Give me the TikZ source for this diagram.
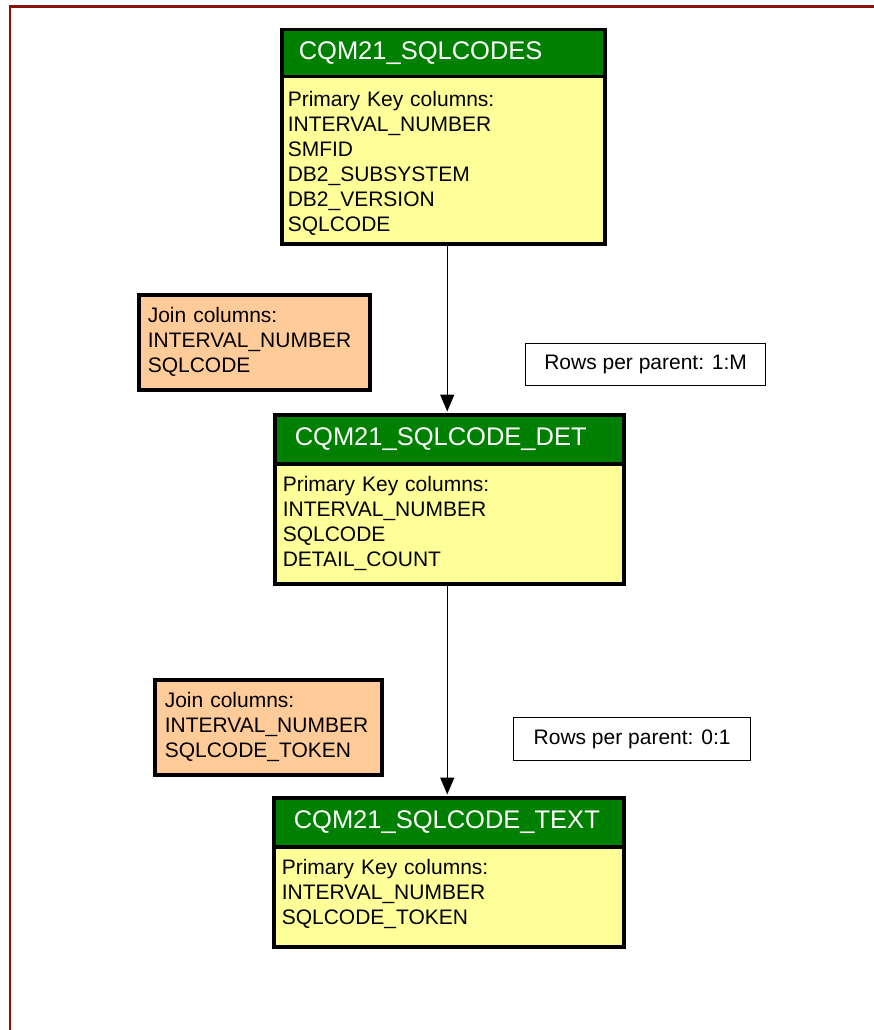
\documentclass[tikz,border=0pt]{standalone}
\usepackage{fontspec}
\setmainfont{Liberation Sans}
\usetikzlibrary{arrows.meta}
\definecolor{hdrgreen}{RGB}{0,128,0}
\definecolor{bodyyellow}{RGB}{255,255,153}
\definecolor{joinpeach}{RGB}{255,204,153}
\definecolor{framered}{RGB}{140,16,16}
\begin{document}
\begin{tikzpicture}[x=1pt,y=-1pt,
  tblhead/.style={draw=black, line width=3.5pt, fill=hdrgreen, text=white,
    font=\fontsize{25.5}{30}\selectfont, anchor=north west,
    inner xsep=18pt, inner ysep=0pt, align=left},
  tblbody/.style={draw=black, line width=3.5pt, fill=bodyyellow,
    font=\fontsize{21}{25}\selectfont, anchor=north west,
    inner xsep=7pt, inner ysep=0pt, align=left},
  joinbox/.style={draw=black, line width=3.5pt, fill=joinpeach,
    font=\fontsize{21}{25}\selectfont, anchor=north west,
    inner xsep=9pt, inner ysep=0pt, align=left},
  cardbox/.style={draw=black, line width=1.2pt, fill=white,
    font=\fontsize{21}{25}\selectfont, anchor=north west, inner sep=0pt},
  link/.style={draw=black, line width=1.5pt,
    -{Triangle[length=17pt,width=14pt]}, shorten >=1.5pt}
]
\useasboundingbox (0,0) rectangle (874,1030);

% page frame
\draw[framered, line width=2.5pt] (874,6.5) -- (10,6.5) -- (10,1030);

% CQM21_SQLCODES
\node[tblhead, minimum width=323pt, minimum height=47pt, text width=289pt, inner xsep=17pt]
  (t1h) at (280,28) {CQM21\_SQLCODES};
\node[tblbody, minimum width=323pt, minimum height=167pt, text width=311pt, inner xsep=6pt]
  (t1b) at (280,75) {\rule{0pt}{21pt}Primary Key columns:\\INTERVAL\_NUMBER\\SMFID\\DB2\_SUBSYSTEM\\DB2\_VERSION\\SQLCODE};

% CQM21_SQLCODE_DET
\node[tblhead, minimum width=349pt, minimum height=49pt, text width=309pt, inner xsep=20pt]
  (t2h) at (273,413) {CQM21\_SQLCODE\_DET};
\node[tblbody, minimum width=349pt, minimum height=120pt, text width=333pt, inner xsep=8pt]
  (t2b) at (273,462) {Primary Key columns:\\INTERVAL\_NUMBER\\SQLCODE\\DETAIL\_COUNT};

% CQM21_SQLCODE_TEXT
\node[tblhead, minimum width=350pt, minimum height=49pt, text width=310pt, inner xsep=20pt]
  (t3h) at (272,796) {CQM21\_SQLCODE\_TEXT};
\node[tblbody, minimum width=350pt, minimum height=100pt, text width=334pt, inner xsep=8pt]
  (t3b) at (272,845) {Primary Key columns:\\INTERVAL\_NUMBER\\SQLCODE\_TOKEN\rule[-9pt]{0pt}{9pt}};

% join column notes
\node[joinbox, minimum width=231pt, minimum height=95pt, text width=213pt]
  (j1) at (137,293) {Join columns:\\INTERVAL\_NUMBER\\SQLCODE};
\node[joinbox, minimum width=227pt, minimum height=95pt, text width=207pt, inner xsep=10pt]
  (j2) at (153,678) {Join columns:\\INTERVAL\_NUMBER\\SQLCODE\_TOKEN};

% cardinality notes
\node[cardbox, minimum width=240pt, minimum height=42pt] (c1) at (525,343) {Rows per parent: 1:M};
\node[cardbox, minimum width=237pt, minimum height=43pt] (c2) at (513,717) {Rows per parent: 0:1};

% parent-child links
\draw[link] ([xshift=-2pt]t1b.south -| t2h.north) -- ([xshift=-2pt]t2h.north);
\draw[link] ([xshift=-2pt]t2b.south) -- ([xshift=-2pt]t3h.north -| t2b.south);
\end{tikzpicture}
\end{document}
